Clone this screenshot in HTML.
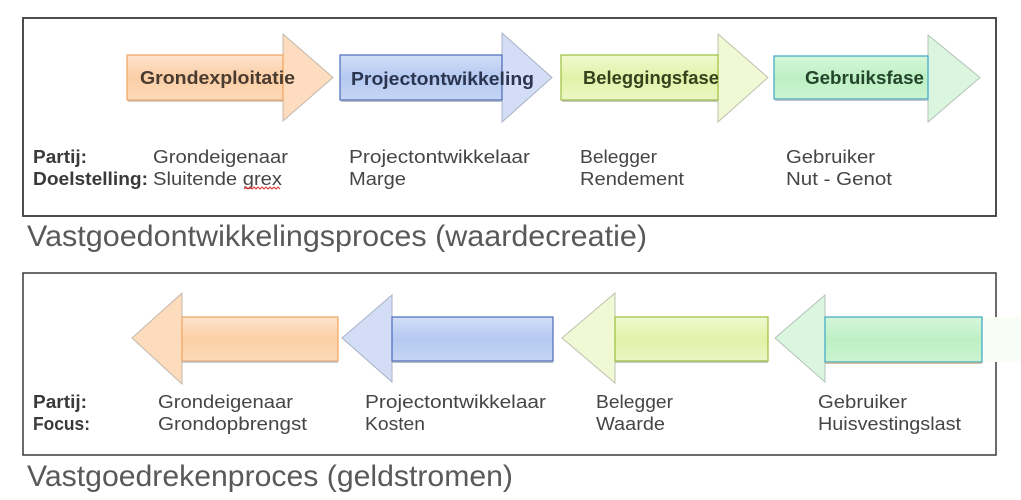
<!DOCTYPE html>
<html>
<head>
<meta charset="utf-8">
<style>
  html,body{margin:0;padding:0;background:#fff;}
  svg{display:block;}
  .t{font-family:"Liberation Sans",Arial,sans-serif;font-size:18px;fill:#454545;}
  .b{font-weight:bold;fill:#3a3a3a;}
  .lbl{font-family:"Liberation Sans",Arial,sans-serif;font-size:18px;font-weight:bold;}
  .title{font-family:"Liberation Sans",Arial,sans-serif;font-size:30px;fill:#595959;}
</style>
</head>
<body>
<svg width="1021" height="500" viewBox="0 0 1021 500" xmlns="http://www.w3.org/2000/svg">
  <defs>
    <linearGradient id="gO" x1="0" y1="0" x2="0" y2="1">
      <stop offset="0" stop-color="#fde3cc"/>
      <stop offset="0.5" stop-color="#fbcfa6"/>
      <stop offset="1" stop-color="#fcd9b8"/>
    </linearGradient>
    <linearGradient id="gB" x1="0" y1="0" x2="0" y2="1">
      <stop offset="0" stop-color="#d2def7"/>
      <stop offset="0.5" stop-color="#b5c9f1"/>
      <stop offset="1" stop-color="#c5d5f4"/>
    </linearGradient>
    <linearGradient id="gY" x1="0" y1="0" x2="0" y2="1">
      <stop offset="0" stop-color="#f1f9d0"/>
      <stop offset="0.5" stop-color="#e2f2a8"/>
      <stop offset="1" stop-color="#ebf6c4"/>
    </linearGradient>
    <linearGradient id="gM" x1="0" y1="0" x2="0" y2="1">
      <stop offset="0" stop-color="#d6f7da"/>
      <stop offset="0.5" stop-color="#bdf0c4"/>
      <stop offset="1" stop-color="#cbf4d0"/>
    </linearGradient>
  </defs>

  <rect x="0" y="0" width="1021" height="500" fill="#fff"/>

  <!-- Top box -->
  <rect x="23" y="18" width="973" height="198" fill="none" stroke="#3a3a3a" stroke-width="1.8"/>

  <!-- Top arrows (right pointing) -->
  <polygon points="283,34 333,77.5 283,121" fill="#fddcbf" stroke="#c4b8ac" stroke-width="1"/>
  <rect x="127" y="55" width="156" height="45" fill="url(#gO)" stroke="#f0a35e" stroke-width="1.2"/>
  <line x1="128" y1="101" x2="283" y2="101" stroke="#c9b8a8" stroke-width="1.5"/>

  <polygon points="502,33 552,77.5 502,122" fill="#d3def6" stroke="#a8b2c6" stroke-width="1"/>
  <rect x="340" y="55" width="162" height="45" fill="url(#gB)" stroke="#4b6cbc" stroke-width="1.2"/>
  <line x1="341" y1="101" x2="502" y2="101" stroke="#9aa4b8" stroke-width="1.5"/>

  <polygon points="718,34 768,77.5 718,122" fill="#f1f9d4" stroke="#bcc2ae" stroke-width="1"/>
  <rect x="561" y="55" width="157" height="45" fill="url(#gY)" stroke="#9cbf3c" stroke-width="1.2"/>
  <line x1="562" y1="101" x2="718" y2="101" stroke="#b4bca0" stroke-width="1.5"/>

  <polygon points="928,35 980,77.5 928,122" fill="#daf6de" stroke="#b4c2b8" stroke-width="1"/>
  <rect x="774" y="56" width="154" height="43" fill="url(#gM)" stroke="#3aa6c6" stroke-width="1.2"/>
  <line x1="775" y1="100" x2="928" y2="100" stroke="#a8b8c0" stroke-width="1.5"/>

  <!-- Arrow labels -->
  <text class="lbl" x="140" y="84" textLength="155" lengthAdjust="spacingAndGlyphs" fill="#4a3b30">Grondexploitatie</text>
  <text class="lbl" x="351" y="85" textLength="183" lengthAdjust="spacingAndGlyphs" fill="#2b3550">Projectontwikkeling</text>
  <text class="lbl" x="583" y="84" textLength="136" lengthAdjust="spacingAndGlyphs" fill="#34421e">Beleggingsfase</text>
  <text class="lbl" x="805" y="84" textLength="119" lengthAdjust="spacingAndGlyphs" fill="#24452b">Gebruiksfase</text>

  <!-- Top texts -->
  <text class="t b" x="33" y="163" textLength="54" lengthAdjust="spacingAndGlyphs">Partij:</text>
  <text class="t b" x="33" y="185" textLength="115" lengthAdjust="spacingAndGlyphs">Doelstelling:</text>
  <text class="t" x="153" y="163" textLength="135" lengthAdjust="spacingAndGlyphs">Grondeigenaar</text>
  <text class="t" x="153" y="185" textLength="129" lengthAdjust="spacingAndGlyphs">Sluitende grex</text>
  <path d="M244,189 l2,-2 l2,2 l2,-2 l2,2 l2,-2 l2,2 l2,-2 l2,2 l2,-2 l2,2 l2,-2 l2,2 l2,-2 l2,2 l2,-2 l2,2 l2,-2 l2,2" fill="none" stroke="#e03030" stroke-width="1"/>
  <text class="t" x="349" y="163" textLength="181" lengthAdjust="spacingAndGlyphs">Projectontwikkelaar</text>
  <text class="t" x="349" y="185" textLength="57" lengthAdjust="spacingAndGlyphs">Marge</text>
  <text class="t" x="580" y="163" textLength="77" lengthAdjust="spacingAndGlyphs">Belegger</text>
  <text class="t" x="580" y="185" textLength="104" lengthAdjust="spacingAndGlyphs">Rendement</text>
  <text class="t" x="786" y="163" textLength="89" lengthAdjust="spacingAndGlyphs">Gebruiker</text>
  <text class="t" x="786" y="185" textLength="106" lengthAdjust="spacingAndGlyphs">Nut - Genot</text>

  <!-- Top title -->
  <text class="title" x="27" y="246" textLength="620" lengthAdjust="spacingAndGlyphs">Vastgoedontwikkelingsproces (waardecreatie)</text>

  <!-- Bottom box -->
  <rect x="23" y="273" width="973" height="182" fill="none" stroke="#3a3a3a" stroke-width="1.5"/>

  <!-- faint band right of mint arrow -->
  <rect x="982" y="317" width="39" height="45" fill="#f8fdf5"/>

  <!-- Bottom arrows (left pointing) -->
  <polygon points="182,293 132,338 182,384" fill="#fddbbd" stroke="#c4b8ac" stroke-width="1"/>
  <rect x="182" y="317" width="156" height="44" fill="url(#gO)" stroke="#f0a35e" stroke-width="1.2"/>
  <line x1="182" y1="362" x2="338" y2="362" stroke="#b8bcc8" stroke-width="1.5"/>

  <polygon points="392,295 342,338 392,382" fill="#d3def6" stroke="#a8b2c6" stroke-width="1"/>
  <rect x="392" y="317" width="161" height="44" fill="url(#gB)" stroke="#4b6cbc" stroke-width="1.2"/>
  <line x1="392" y1="362" x2="553" y2="362" stroke="#9aa4b8" stroke-width="1.5"/>

  <polygon points="615,293 562,338 615,383" fill="#f1f9d4" stroke="#bcc2ae" stroke-width="1"/>
  <rect x="615" y="317" width="153" height="44" fill="url(#gY)" stroke="#9cbf3c" stroke-width="1.2"/>
  <line x1="615" y1="362" x2="768" y2="362" stroke="#b4bca0" stroke-width="1.5"/>

  <polygon points="825,295 775,338 825,382" fill="#daf6de" stroke="#b4c2b8" stroke-width="1"/>
  <rect x="825" y="317" width="157" height="45" fill="url(#gM)" stroke="#3aa6c6" stroke-width="1.2"/>
  <line x1="825" y1="363" x2="982" y2="363" stroke="#c0b098" stroke-width="1.5"/>

  <!-- Bottom texts -->
  <text class="t b" x="33" y="408" textLength="54" lengthAdjust="spacingAndGlyphs">Partij:</text>
  <text class="t b" x="33" y="430" textLength="57" lengthAdjust="spacingAndGlyphs">Focus:</text>
  <text class="t" x="158" y="408" textLength="135" lengthAdjust="spacingAndGlyphs">Grondeigenaar</text>
  <text class="t" x="158" y="430" textLength="149" lengthAdjust="spacingAndGlyphs">Grondopbrengst</text>
  <text class="t" x="365" y="408" textLength="181" lengthAdjust="spacingAndGlyphs">Projectontwikkelaar</text>
  <text class="t" x="365" y="430" textLength="60" lengthAdjust="spacingAndGlyphs">Kosten</text>
  <text class="t" x="596" y="408" textLength="77" lengthAdjust="spacingAndGlyphs">Belegger</text>
  <text class="t" x="596" y="430" textLength="69" lengthAdjust="spacingAndGlyphs">Waarde</text>
  <text class="t" x="818" y="408" textLength="89" lengthAdjust="spacingAndGlyphs">Gebruiker</text>
  <text class="t" x="818" y="430" textLength="143" lengthAdjust="spacingAndGlyphs">Huisvestingslast</text>

  <!-- Bottom title -->
  <text class="title" x="27" y="486" textLength="486" lengthAdjust="spacingAndGlyphs">Vastgoedrekenproces (geldstromen)</text>
</svg>
</body>
</html>
